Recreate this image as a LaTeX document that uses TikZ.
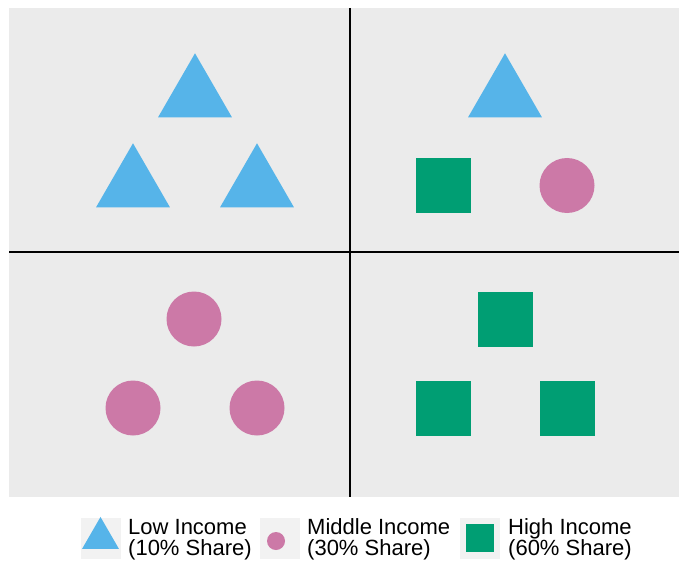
\documentclass[tikz,border=0pt]{standalone}
\usepackage{fontspec}
\setmainfont{Liberation Sans}
\usetikzlibrary{shapes.geometric}
\definecolor{panelbg}{HTML}{EBEBEB}
\definecolor{keybg}{HTML}{F2F2F2}
\definecolor{lowc}{HTML}{56B4E9}
\definecolor{midc}{HTML}{CC79A7}
\definecolor{highc}{HTML}{009E73}
\tikzset{
  lowmark/.style={regular polygon, regular polygon sides=3, fill=lowc, draw=none, inner sep=0pt, outer sep=0pt, minimum size=85.4bp},
  midmark/.style={circle, fill=midc, draw=none, inner sep=0pt, outer sep=0pt, minimum size=55bp},
  highmark/.style={rectangle, fill=highc, draw=none, inner sep=0pt, outer sep=0pt, minimum size=55bp},
  keybox/.style={rectangle, fill=keybg, draw=none, inner sep=0pt, minimum width=40bp, minimum height=41bp},
  keytext/.style={anchor=base west, align=left, inner sep=0pt, font=\fontsize{22bp}{21.5bp}\selectfont},
  divider/.style={line width=2.7bp, black}
}
\begin{document}
\begin{tikzpicture}[x=1bp, y=-1bp]
  \useasboundingbox (0,0) rectangle (679,567);
  % panel background
  \fill[panelbg] (9,8) rectangle (679,497);
  % quadrant dividers
  \coordinate (vtop) at (350,8);
  \coordinate (vbot) at (350,497);
  \coordinate (hleft) at (9,252);
  \coordinate (hright) at (679,252);
  \draw[divider] (vtop) -- (vbot);
  \draw[divider] (hleft) -- (hright);
  % top-left: three low income
  \node[lowmark] (tl1) at (195,96) {};
  \node[lowmark] (tl2) at (133,186) {};
  \node[lowmark] (tl3) at (257,186) {};
  % top-right: one of each
  \node[lowmark] (tr1) at (505,96) {};
  \node[highmark] (tr2) at (443,185.5) {};
  \node[midmark] (tr3) at (567,185.5) {};
  % bottom-left: three middle income
  \node[midmark] (bl1) at (194,319) {};
  \node[midmark] (bl2) at (133,408) {};
  \node[midmark] (bl3) at (257,408) {};
  % bottom-right: three high income
  \node[highmark] (br1) at (505,319) {};
  \node[highmark] (br2) at (443,408) {};
  \node[highmark] (br3) at (567,408) {};
  % legend (text anchored on the baseline of its second line)
  \node[keybox] (k1) at (101,538.5) {};
  \node[lowmark, minimum size=42.7bp] (k1m) at (100.5,538.3) {};
  \node[keytext] (k1t) at (128,555.5) {Low Income\\(10\% Share)};
  \node[keybox] (k2) at (279.5,538.5) {};
  \node[midmark, minimum size=18bp] (k2m) at (276,541) {};
  \node[keytext] (k2t) at (307,555.5) {Middle Income\\(30\% Share)};
  \node[keybox] (k3) at (479.5,538.5) {};
  \node[highmark, minimum size=28bp] (k3m) at (480,538) {};
  \node[keytext] (k3t) at (508,555.5) {High Income\\(60\% Share)};
\end{tikzpicture}
\end{document}
